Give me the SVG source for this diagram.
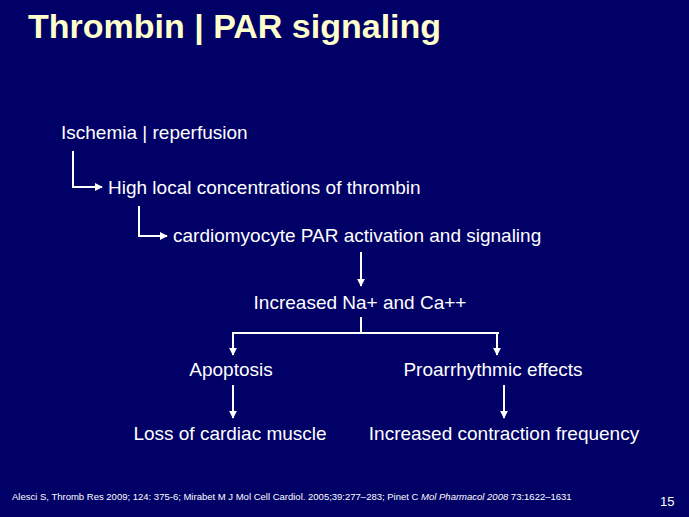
<svg xmlns="http://www.w3.org/2000/svg" width="689" height="517" viewBox="0 0 689 517">
<style>
.t{font-family:"Liberation Sans",Arial,sans-serif;fill:#fff;font-size:19px}
.c{fill:none;stroke:#fff;stroke-width:2}
.ref{font-family:"Liberation Sans",Arial,sans-serif;fill:#fff;font-size:9.5px}
</style>
<defs>
<marker id="ah" viewBox="0 0 10 10" refX="9" refY="5" markerWidth="4" markerHeight="4" orient="auto" markerUnits="strokeWidth">
<path d="M0,0 L10,5 L0,10 z" fill="#fff"/>
</marker>
</defs>
<rect width="689" height="517" fill="#000066"/>
<text x="28" y="38" font-family="Liberation Sans,Arial,sans-serif" font-weight="bold" font-size="34" fill="#ffffcc">Thrombin | PAR signaling</text>
<g id="n1"><text class="t" x="61" y="139">Ischemia | reperfusion</text></g>
<g id="n2"><text class="t" x="108" y="194">High local concentrations of thrombin</text></g>
<g id="n3"><text class="t" x="173" y="242">cardiomyocyte PAR activation and signaling</text></g>
<g id="n4"><text class="t" x="360" y="309" text-anchor="middle">Increased Na+ and Ca++</text></g>
<g id="n5"><text class="t" x="231" y="376" text-anchor="middle">Apoptosis</text></g>
<g id="n6"><text class="t" x="493" y="376" text-anchor="middle">Proarrhythmic effects</text></g>
<g id="n7"><text class="t" x="230" y="440" text-anchor="middle">Loss of cardiac muscle</text></g>
<g id="n8"><text class="t" x="504" y="440" text-anchor="middle">Increased contraction frequency</text></g>
<g id="connectors">
<path class="c" d="M73,151 V187 H102" marker-end="url(#ah)"/>
<path class="c" d="M139,206 V236 H167" marker-end="url(#ah)"/>
<path class="c" d="M361,252 V286" marker-end="url(#ah)"/>
<path class="c" d="M361,317 V333"/>
<path class="c" d="M233,333 H499"/>
<path class="c" d="M233,332 V355" marker-end="url(#ah)"/>
<path class="c" d="M497,332 V355" marker-end="url(#ah)"/>
<path class="c" d="M233,385 V418" marker-end="url(#ah)"/>
<path class="c" d="M504,385 V418" marker-end="url(#ah)"/>
</g>
<text class="ref" x="12" y="500">Alesci S, Thromb  Res 2009;  124: 375-6;  Mirabet M J Mol  Cell Cardiol.  2005;39:277–283;  Pinet C <tspan font-style="italic">Mol  Pharmacol 2008</tspan> 73:1622–1631</text>
<text x="660" y="506" font-family="Liberation Sans,Arial,sans-serif" font-size="13" fill="#fff">15</text>
</svg>
